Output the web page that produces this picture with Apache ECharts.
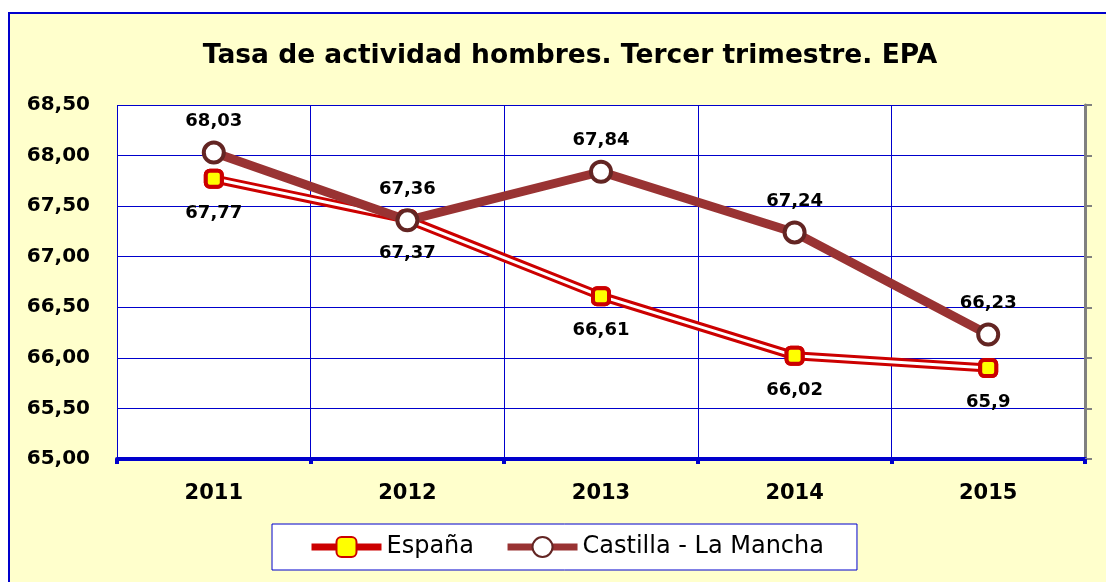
<!DOCTYPE html>
<html>
<head>
<meta charset="utf-8">
<script src="https://cdn.jsdelivr.net/npm/echarts@6/dist/echarts.min.js"></script>
<style>
  html, body { margin: 0; padding: 0; background: #fff; }
  #chart { width: 1106px; height: 582px; }
</style>
</head>
<body>
<div id="chart"></div>
<script>
const years = ['2011', '2012', '2013', '2014', '2015'];
const espana = [67.77, 67.37, 66.61, 66.02, 65.9];
const castilla = [68.03, 67.36, 67.84, 67.24, 66.23];
const yMin = 65;
const yMax = 68.5;
const yStep = 0.5;

const BLUE = '#0000CC';
const RED = '#CC0000';
const BROWN = '#993333';
const DARK_BROWN = '#632523';

const comma = (v) => String(v).replace('.', ',');

const labelStyle = {
  fontFamily: 'DejaVu Sans',
  fontWeight: 'bold',
  fontSize: 18,
  color: '#000',
};

const chart = echarts.init(document.getElementById('chart'));

const option = {
  animation: false,
  backgroundColor: '#fff',
  graphic: [
    {
      type: 'rect',
      z: -10,
      shape: { x: 9, y: 13, width: 1200, height: 700 },
      style: { fill: '#FFFFCC', stroke: BLUE, lineWidth: 2 },
    },
  ],
  title: {
    text: 'Tasa de actividad hombres. Tercer trimestre. EPA',
    left: 565,
    top: 38,
    textAlign: 'center',
    textStyle: {
      fontFamily: 'DejaVu Sans',
      fontWeight: 'bold',
      fontSize: 26.5,
      color: '#000',
    },
  },
  legend: {
    data: [
      { name: 'España', lineStyle: { width: 7, color: RED } },
      { name: 'Castilla - La Mancha', lineStyle: { width: 7, color: BROWN } },
    ],
    left: 272,
    top: 524,
    padding: [11, 33, 11, 36],
    itemGap: 30,
    itemWidth: 70,
    itemHeight: 25,
    borderColor: BLUE,
    borderWidth: 1,
    backgroundColor: '#fff',
    textStyle: {
      fontFamily: 'DejaVu Sans',
      fontSize: 24,
      color: '#000',
    },
  },
  grid: {
    left: 117,
    right: 21,
    top: 105,
    bottom: 123,
    show: true,
    backgroundColor: '#fff',
    borderWidth: 0,
  },
  xAxis: {
    type: 'category',
    data: years,
    boundaryGap: true,
    axisLine: { lineStyle: { color: BLUE, width: 4 } },
    axisTick: { show: true, length: 5, lineStyle: { color: BLUE, width: 4 } },
    axisLabel: {
      margin: 24,
      fontFamily: 'DejaVu Sans',
      fontWeight: 'bold',
      fontSize: 21,
      color: '#000',
    },
    splitLine: { show: true, lineStyle: { color: BLUE, width: 1 } },
  },
  yAxis: [
    {
      type: 'value',
      min: yMin,
      max: yMax,
      interval: yStep,
      axisLine: { show: false },
      axisTick: { show: false },
      axisLabel: {
        margin: 27,
        fontFamily: 'DejaVu Sans',
        fontWeight: 'bold',
        fontSize: 20,
        color: '#000',
        formatter: (v) => v.toFixed(2).replace('.', ','),
      },
      splitLine: { show: true, lineStyle: { color: BLUE, width: 1 } },
    },
    {
      type: 'value',
      position: 'right',
      min: yMin,
      max: yMax,
      interval: yStep,
      axisLine: { show: true, lineStyle: { color: '#808080', width: 3 } },
      axisTick: { show: true, inside: false, length: 7, lineStyle: { color: '#808080', width: 2 } },
      axisLabel: { show: false },
      splitLine: { show: false },
    },
  ],
  series: [
    // España: outer red stroke of the double line
    {
      name: 'España',
      type: 'line',
      data: espana,
      z: 2,
      symbol: 'roundRect',
      symbolSize: 16,
      itemStyle: { color: '#FFFF00', borderColor: RED, borderWidth: 4 },
      lineStyle: { color: RED, width: 9 },
      label: { show: false },
    },
    // España: white inner stroke
    {
      name: 'España_inner',
      type: 'line',
      data: espana,
      z: 2,
      symbol: 'none',
      lineStyle: { color: '#fff', width: 3 },
      silent: true,
    },
    // España: markers and labels on top
    {
      name: 'España_pts',
      type: 'line',
      data: espana,
      z: 3,
      symbol: 'roundRect',
      symbolSize: 16,
      itemStyle: { color: '#FFFF00', borderColor: RED, borderWidth: 4 },
      lineStyle: { width: 0, opacity: 0 },
      label: {
        show: true,
        position: 'bottom',
        distance: 15,
        formatter: (p) => comma(p.value),
        ...labelStyle,
      },
    },
    {
      name: 'Castilla - La Mancha',
      type: 'line',
      data: castilla,
      z: 4,
      symbol: 'circle',
      symbolSize: 20,
      itemStyle: { color: '#fff', borderColor: DARK_BROWN, borderWidth: 4 },
      lineStyle: { color: BROWN, width: 9 },
      label: {
        show: true,
        position: 'top',
        distance: 10,
        formatter: (p) => comma(p.value),
        ...labelStyle,
      },
    },
  ],
};

chart.setOption(option);
</script>
</body>
</html>
